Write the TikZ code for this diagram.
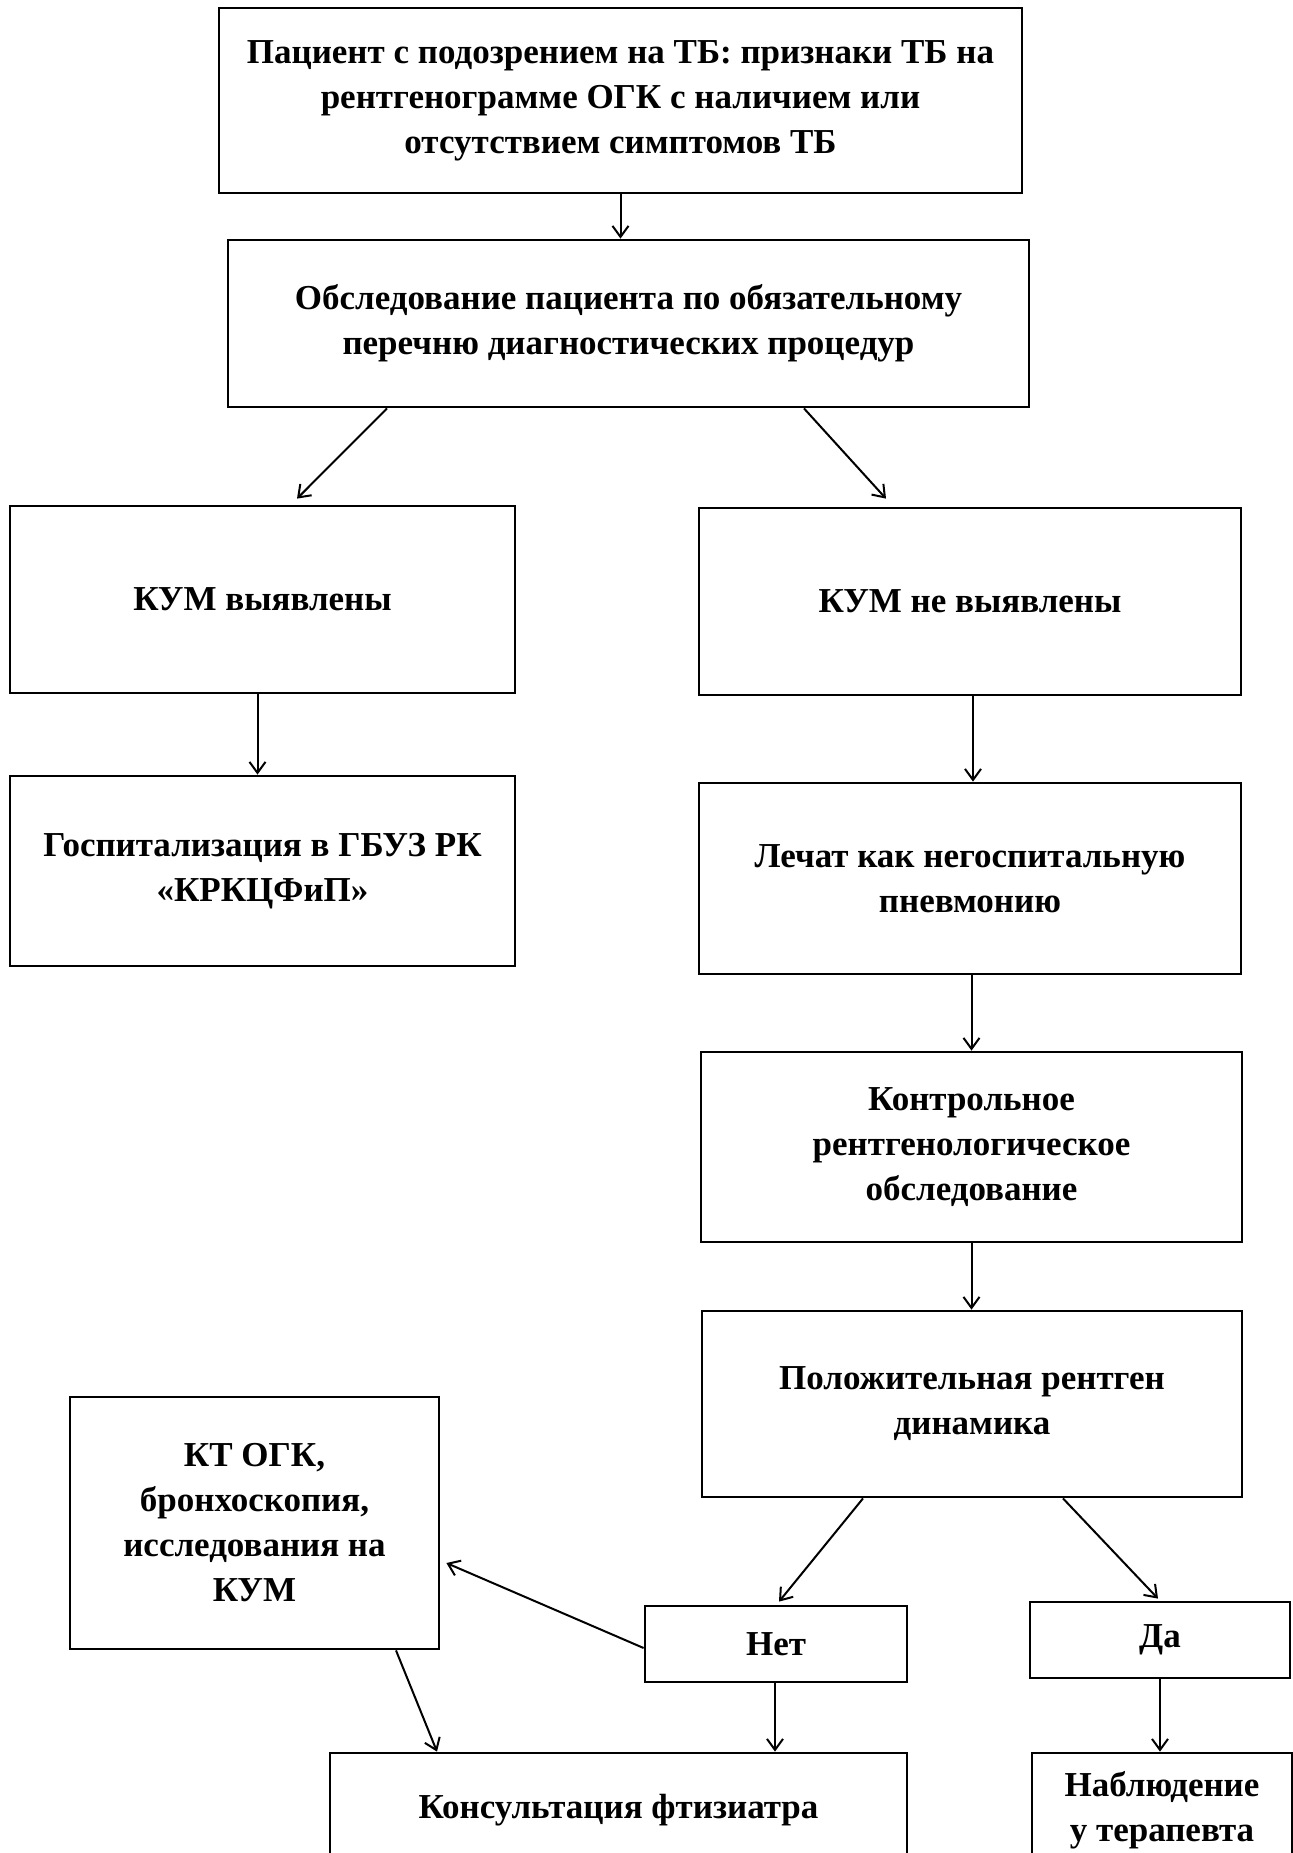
\documentclass[tikz,border=0pt]{standalone}
\usepackage{fontspec}
\setmainfont{Liberation Serif}
\usetikzlibrary{arrows.meta}
\begin{document}
\begin{tikzpicture}[x=1pt,y=-1pt,
  box/.style={draw,line width=2.8pt,align=center,inner sep=0pt,
    font=\fontsize{35}{45}\selectfont\bfseries},
  arr/.style={line width=2pt,-{Straight Barb[length=11pt,width=16pt,line width=2pt]}}]
\clip (0,0) rectangle (1293,1853);
\fill[white] (0,0) rectangle (1293,1853);
\node[box,minimum width=803pt,minimum height=185pt] (b1) at (620.5,100.5)
  {Пациент с подозрением на ТБ: признаки ТБ на\\рентгенограмме ОГК с наличием или\\отсутствием симптомов ТБ};
\node[box,minimum width=801pt,minimum height=167pt] (b2) at (628.5,323.5)
  {Обследование пациента по обязательному\\перечню диагностических процедур};
\node[box,minimum width=505pt,minimum height=187pt] (b3) at (262.5,599.5) {КУМ выявлены};
\node[box,minimum width=542pt,minimum height=187pt] (b4) at (970,601.5) {КУМ не выявлены};
\node[box,minimum width=505pt,minimum height=190pt] (b5) at (262.5,871)
  {Госпитализация в ГБУЗ РК\\«КРКЦФиП»};
\node[box,minimum width=542pt,minimum height=191pt] (b6) at (970,878.5)
  {Лечат как негоспитальную\\пневмонию};
\node[box,minimum width=541pt,minimum height=190pt] (b7) at (971.5,1147)
  {Контрольное\\рентгенологическое\\обследование};
\node[box,minimum width=540pt,minimum height=186pt] (b8) at (972,1404)
  {Положительная рентген\\динамика};
\node[box,minimum width=369pt,minimum height=252pt] (b9) at (254.5,1523)
  {КТ ОГК,\\бронхоскопия,\\исследования на\\КУМ};
\node[box,minimum width=262pt,minimum height=76pt] (net) at (776,1644) {Нет};
\node[box,minimum width=260pt,minimum height=76pt] (da) at (1160,1640) {Да};
\node[box,minimum width=577pt,minimum height=114pt] (kons) at (618.5,1810)
  {Консультация фтизиатра};
\node[box,minimum width=260pt,minimum height=114pt] (nab) at (1162,1810)
  {Наблюдение\\у терапевта};
\draw[arr] (b1.south) -- (b1.south |- b2.north);
\draw[arr] ([xshift=-241.5pt]b2.south) -- ([xshift=34.5pt,yshift=6pt]b3.north);
\draw[arr] ([xshift=175.5pt]b2.south) -- ([xshift=-84pt,yshift=8pt]b4.north);
\draw[arr] ([xshift=-5pt]b3.south) -- ([xshift=-5pt]b3.south |- b5.north);
\draw[arr] ([xshift=3pt]b4.south) -- ([xshift=3pt]b4.south |- b6.north);
\draw[arr] ([xshift=1.5pt]b6.south) -- ([xshift=1.5pt]b6.south |- b7.north);
\draw[arr] (b7.south) -- (b7.south |- b8.north);
\draw[arr] ([xshift=-109pt]b8.south) -- ([xshift=3pt,yshift=3pt]net.north);
\draw[arr] ([xshift=91pt]b8.south) -- ([xshift=-2pt,yshift=2pt]da.north);
\draw[arr] ([yshift=-4pt]net.west) -- ([xshift=6pt,yshift=-40pt]b9.east);
\draw[arr] ([xshift=141.5pt]b9.south) -- ([xshift=-181.5pt]kons.north);
\draw[arr] ([xshift=-1pt]net.south) -- ([xshift=-1pt]net.south |- kons.north);
\draw[arr] (da.south) -- (da.south |- nab.north);
\end{tikzpicture}
\end{document}
